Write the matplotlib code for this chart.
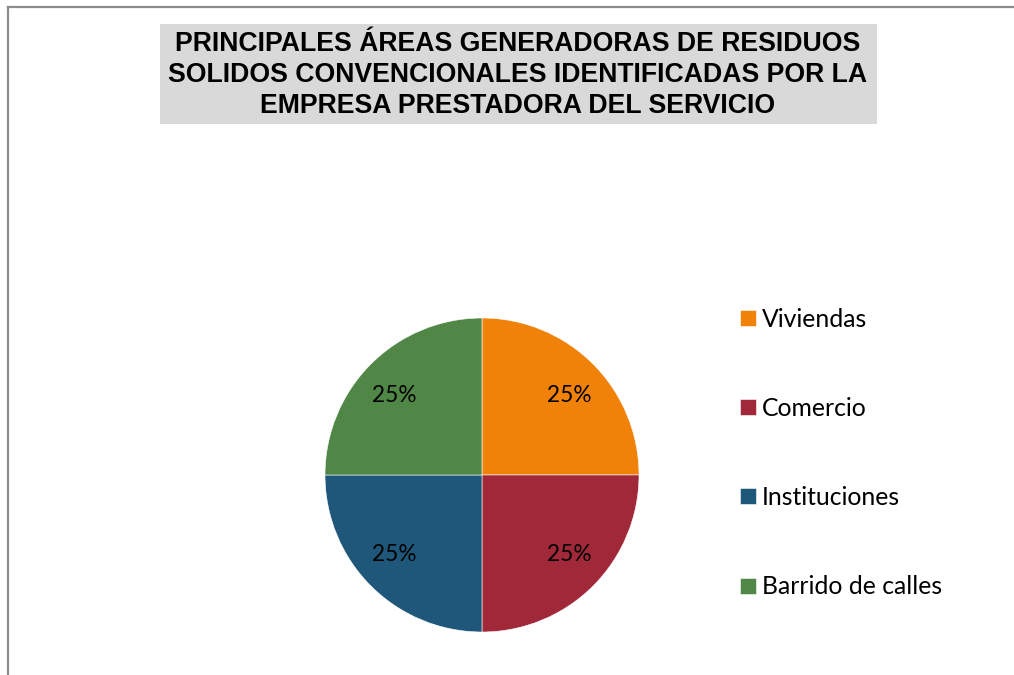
import matplotlib.pyplot as plt
from matplotlib.patches import Rectangle
from matplotlib.lines import Line2D

# datos del grafico
areas = ['Viviendas', 'Comercio', 'Instituciones', 'Barrido de calles']
porcentajes = [25, 25, 25, 25]
colores = ['#F0820A', '#A02838', '#1E577A', '#508746']
titulo = ('PRINCIPALES ÁREAS GENERADORAS DE RESIDUOS\n'
          'SOLIDOS CONVENCIONALES IDENTIFICADAS POR LA\n'
          'EMPRESA PRESTADORA DEL SERVICIO')

W, H = 1014, 675
fig = plt.figure(figsize=(W / 100, H / 100), dpi=100)
fig.patch.set_facecolor('white')

# borde del area del grafico (solo izquierda y arriba visibles)
fig.add_artist(Line2D([8 / W, 8 / W], [0, 1 - 7 / H], color='#8c8c8c', lw=1.6,
                      transform=fig.transFigure))
fig.add_artist(Line2D([8 / W, 1], [1 - 7 / H, 1 - 7 / H], color='#8c8c8c', lw=1.6,
                      transform=fig.transFigure))

# caja del titulo
fig.add_artist(Rectangle((160 / W, 1 - 124 / H), (877 - 160) / W, 100 / H,
                         facecolor='#d9d9d9', edgecolor='none',
                         transform=fig.transFigure))
fig.text(518 / W, 1 - 75 / H, titulo, ha='center', va='center',
         fontsize=19.2, fontweight='bold', family='Liberation Sans',
         linespacing=1.25, color='black')

# pastel
cx, cy, r = 482, 475, 157
ax = fig.add_axes([(cx - r) / W, (H - cy - r) / H, 2 * r / W, 2 * r / H])
wedges, _, autotexts = ax.pie(porcentajes, colors=colores, startangle=90,
                              counterclock=False, autopct='%1.0f%%',
                              pctdistance=0.75,
                              wedgeprops=dict(edgecolor='white', linewidth=0.4),
                              textprops=dict(fontsize=16.3, family='Lato', color='black'))
for t in autotexts:
    x, y = t.get_position()
    t.set_position((x * 1.05, y * 0.95))
ax.set_xlim(-1, 1)
ax.set_ylim(-1, 1)
ax.set_aspect('equal')

fig.legend(wedges, areas, loc='center left',
           bbox_to_anchor=(718 / W, 1 - 453 / H), frameon=False,
           prop=dict(family='Lato', size=17.8), labelspacing=2.68,
           handlelength=0.62, handleheight=0.62, handletextpad=0.25)

fig.savefig('out.png', dpi=100)
